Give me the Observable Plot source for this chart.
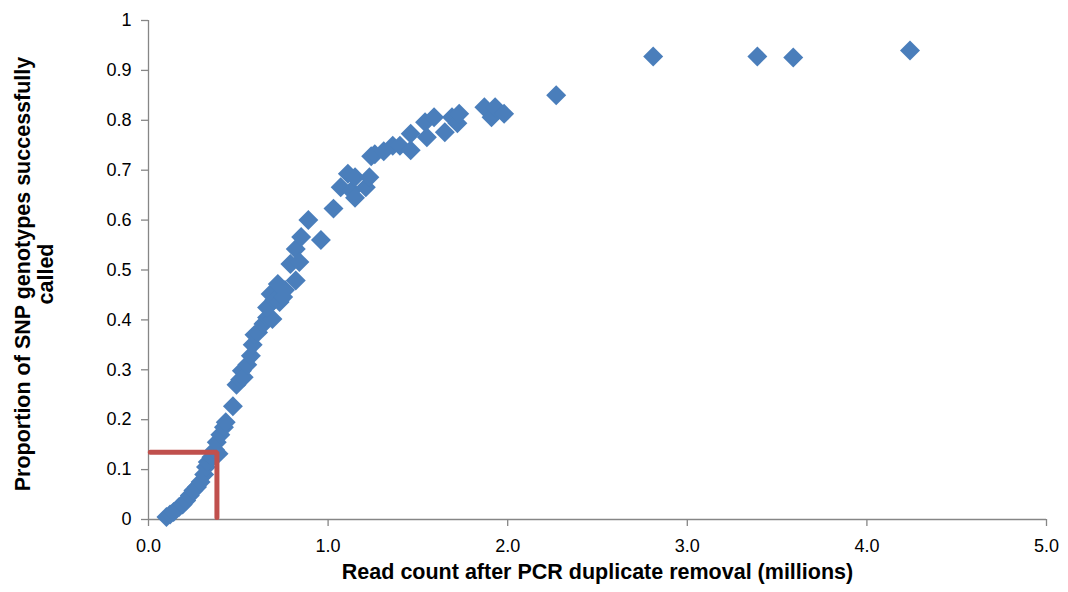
<!DOCTYPE html>
<html>
<head>
<meta charset="utf-8">
<script src="https://cdn.jsdelivr.net/npm/d3@7"></script>
<script src="https://cdn.jsdelivr.net/npm/@observablehq/plot@0.6"></script>
<style>
  html, body { margin: 0; padding: 0; background: #ffffff; }
  #chart { width: 1068px; height: 592px; }
</style>
</head>
<body>
<div id="chart"></div>
<script>
// Read count after PCR duplicate removal (millions)
const readCount = [
  0.10, 0.12, 0.14, 0.17, 0.19, 0.21, 0.23, 0.25, 0.27, 0.29,
  0.31, 0.32, 0.33, 0.35, 0.37, 0.39, 0.38, 0.40, 0.42, 0.43,
  0.47, 0.49, 0.51, 0.52, 0.53, 0.55, 0.57, 0.58, 0.59, 0.61,
  0.64, 0.66, 0.69, 0.66, 0.68, 0.70, 0.72, 0.73, 0.75, 0.76,
  0.79, 0.82, 0.82, 0.84, 0.85, 0.89, 0.96, 1.03, 1.07, 1.11,
  1.13, 1.15, 1.15, 1.21, 1.23, 1.24, 1.26, 1.31, 1.36, 1.40,
  1.46, 1.46, 1.54, 1.55, 1.59, 1.65, 1.69, 1.72, 1.73, 1.87,
  1.91, 1.93, 1.98, 2.27, 2.81, 3.39, 3.59, 4.24
];
// Proportion of SNP genotypes successfully called
const proportionCalled = [
  0.005, 0.010, 0.015, 0.025, 0.030, 0.038, 0.048, 0.058, 0.065, 0.075,
  0.090, 0.105, 0.115, 0.125, 0.140, 0.132, 0.155, 0.170, 0.185, 0.195,
  0.227, 0.270, 0.280, 0.298, 0.285, 0.310, 0.328, 0.350, 0.370, 0.375,
  0.392, 0.405, 0.402, 0.425, 0.452, 0.440, 0.472, 0.436, 0.446, 0.460,
  0.512, 0.479, 0.542, 0.516, 0.566, 0.600, 0.560, 0.623, 0.666, 0.693,
  0.659, 0.686, 0.645, 0.666, 0.686, 0.728, 0.732, 0.738, 0.749, 0.749,
  0.740, 0.773, 0.796, 0.766, 0.806, 0.776, 0.806, 0.794, 0.813, 0.826,
  0.806, 0.826, 0.813, 0.850, 0.928, 0.928, 0.926, 0.940
];
// Threshold marker (red L-shaped guide)
const guideX = [0.01, 0.381, 0.381];
const guideY = [0.135, 0.135, 0.004];

const xTicks = [0, 1, 2, 3, 4, 5];
const yTicks = [0, 0.1, 0.2, 0.3, 0.4, 0.5, 0.6, 0.7, 0.8, 0.9, 1];
const xTitle = "Read count after PCR duplicate removal (millions)";
const yTitle = "Proportion of SNP genotypes successfully\ncalled";

const points = readCount.map((x, i) => ({x, y: proportionCalled[i]}));
const guide = guideX.map((x, i) => ({x, y: guideY[i]}));

const axisGray = "#868686";
const font = "'Liberation Sans', Arial, Helvetica, sans-serif";

const chart = Plot.plot({
  width: 1068,
  height: 592,
  marginLeft: 148,
  marginRight: 22,
  marginTop: 20,
  marginBottom: 73,
  style: {fontFamily: font, fontSize: "18px", color: "#000", background: "#fff", overflow: "visible"},
  x: {domain: [0, 5]},
  y: {domain: [0, 1]},
  marks: [
    Plot.ruleY([0], {stroke: axisGray, strokeWidth: 1.3}),
    Plot.ruleX([0], {stroke: axisGray, strokeWidth: 1.3}),
    Plot.axisX({ticks: xTicks, tickFormat: d => d.toFixed(1), tickSize: 7, tickPadding: 13, stroke: axisGray, strokeWidth: 1.3, fontSize: 18, label: null}),
    Plot.axisY({ticks: yTicks, tickFormat: d => String(d), tickSize: 7, tickPadding: 10, stroke: axisGray, strokeWidth: 1.3, fontSize: 18, label: null}),
    Plot.dot(points, {x: "x", y: "y", symbol: "diamond2", r: 9, fill: "#4A7EBB", stroke: "none"}),
    Plot.line(guide, {x: "x", y: "y", stroke: "#C0504D", strokeWidth: 5, strokeLinejoin: "miter", curve: "linear"}),
    Plot.text([xTitle], {frameAnchor: "bottom", dy: 59, fontWeight: "bold", fontSize: 21.5, fill: "#000"}),
    Plot.text([yTitle], {frameAnchor: "left", textAnchor: "middle", dx: -114.5, dy: 4, rotate: -90, fontWeight: "bold", fontSize: 21.5, lineHeight: 1.08, fill: "#000"})
  ]
});
document.getElementById("chart").appendChild(chart);
</script>
</body>
</html>
